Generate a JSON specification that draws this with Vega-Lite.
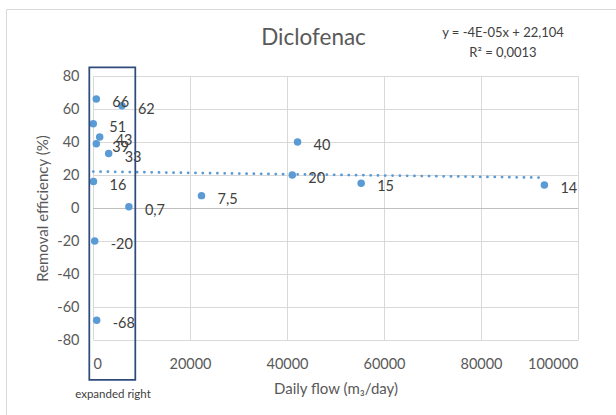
{
  "$schema": "https://vega.github.io/schema/vega-lite/v6.json",
  "width": 485,
  "height": 264,
  "autosize": {"type": "none"},
  "padding": {"left": 93, "top": 76, "right": 38, "bottom": 75},
  "background": "white",
  "title": {
    "text": "Diclofenac",
    "fontSize": 22.5,
    "font": "Lato",
    "fontWeight": "normal",
    "color": "#595959",
    "anchor": "middle",
    "baseline": "alphabetic",
    "dx": -22,
    "offset": -58
  },
  "datasets": {
    "points": [
      {"flow": 680, "removal": 66},
      {"flow": 5970, "removal": 62},
      {"flow": 50, "removal": 51},
      {"flow": 1380, "removal": 43},
      {"flow": 680, "removal": 39},
      {"flow": 3230, "removal": 33},
      {"flow": 100, "removal": 16},
      {"flow": 7400, "removal": 0.7},
      {"flow": 350, "removal": -20},
      {"flow": 760, "removal": -68},
      {"flow": 22370, "removal": 7.5},
      {"flow": 42180, "removal": 40},
      {"flow": 41090, "removal": 20},
      {"flow": 55290, "removal": 15},
      {"flow": 93070, "removal": 14}
    ],
    "trend": [
      {"flow": 50, "removal": 22.102},
      {"flow": 93070, "removal": 18.381}
    ],
    "frame": [
      {"x0": -17835, "x1": 130000, "y0": 120.3, "y1": -160}
    ],
    "box": [
      {"x0": -763, "x1": 8722, "y0": 85.3, "y1": -104.2}
    ],
    "notes": [
      {"flow": 84536, "removal": 106, "note": "y = -4E-05x + 22,104", "size": 13},
      {"flow": 84536, "removal": 94, "note": "R² = 0,0013", "size": 13},
      {"flow": 4124, "removal": -113.3, "note": "expanded right", "size": 11.5}
    ]
  },
  "config": {
    "locale": {
      "number": {"decimal": ",", "thousands": "", "grouping": [3], "currency": ["", ""], "minus": "-"}
    },
    "view": {"stroke": null}
  },
  "resolve": {"axis": {"x": "independent", "y": "independent"}},
  "layer": [
    {
      "data": {"name": "points"},
      "mark": {"type": "point", "filled": true, "shape": "circle", "size": 56, "color": "#5B9BD5", "opacity": 0},
      "encoding": {
        "x": {
          "field": "flow", "type": "quantitative",
          "scale": {"domain": [0, 100000], "nice": false},
          "axis": {
            "values": [0, 20000, 40000, 60000, 80000, 100000], "format": "d",
            "grid": true, "gridColor": "#d9d9d9", "gridWidth": 1, "gridOpacity": 1,
            "domain": false, "ticks": false, "labelOverlap": false,
            "labelFont": "Lato", "labelFontSize": 14.5, "labelColor": "#595959", "labelPadding": 17,
            "title": "Daily flow (m₃/day)", "titleFont": "Lato", "titleFontSize": 15, "titleFontWeight": "normal", "titleColor": "#595959",
            "titleY": 53, "titleBaseline": "alphabetic"
          }
        },
        "y": {
          "field": "removal", "type": "quantitative",
          "scale": {"domain": [-80, 80], "nice": false, "zero": false},
          "axis": {
            "values": [-80, -60, -40, -20, 0, 20, 40, 60, 80], "format": "d",
            "grid": true, "gridColor": "#d9d9d9", "gridWidth": 1, "gridOpacity": 1,
            "domain": false, "ticks": false, "labelOverlap": false,
            "labelFont": "Lato", "labelFontSize": 14.5, "labelColor": "#595959", "labelPadding": 14,
            "title": "Removal efficiency (%)", "titleFont": "Lato", "titleFontSize": 15, "titleFontWeight": "normal", "titleColor": "#595959",
            "titleX": -51, "titleBaseline": "middle"
          }
        }
      }
    },
    {
      "data": {"values": [{"removal": 0}]},
      "mark": {"type": "rule", "color": "#bfbfbf", "strokeWidth": 1, "yOffset": 0.5},
      "encoding": {"y": {"field": "removal", "type": "quantitative", "axis": null}}
    },
    {
      "data": {"name": "trend"},
      "mark": {"type": "line", "color": "#5B9BD5", "strokeWidth": 2.75, "strokeDash": [0.1, 7.2], "strokeCap": "round"},
      "encoding": {
        "x": {"field": "flow", "type": "quantitative", "axis": null},
        "y": {"field": "removal", "type": "quantitative", "axis": null}
      }
    },
    {
      "data": {"name": "points"},
      "mark": {"type": "point", "filled": true, "shape": "circle", "size": 56, "color": "#5B9BD5", "opacity": 1},
      "encoding": {
        "x": {"field": "flow", "type": "quantitative", "axis": null},
        "y": {"field": "removal", "type": "quantitative", "axis": null}
      }
    },
    {
      "data": {"name": "points"},
      "mark": {"type": "text", "align": "left", "baseline": "middle", "dx": 16, "dy": 4, "font": "Lato", "fontSize": 14.5, "color": "#404040"},
      "encoding": {
        "x": {"field": "flow", "type": "quantitative", "axis": null},
        "y": {"field": "removal", "type": "quantitative", "axis": null},
        "text": {"field": "removal", "type": "quantitative", "format": ""}
      }
    },
    {
      "data": {"name": "box"},
      "mark": {"type": "rect", "fill": null, "stroke": "#2F4B7C", "strokeWidth": 1.75},
      "encoding": {
        "x": {"field": "x0", "type": "quantitative", "axis": null},
        "x2": {"field": "x1"},
        "y": {"field": "y0", "type": "quantitative", "axis": null},
        "y2": {"field": "y1"}
      }
    },
    {
      "data": {"name": "frame"},
      "mark": {"type": "rect", "fill": null, "stroke": "#d9d9d9", "strokeWidth": 1},
      "encoding": {
        "x": {"field": "x0", "type": "quantitative", "axis": null},
        "x2": {"field": "x1"},
        "y": {"field": "y0", "type": "quantitative", "axis": null},
        "y2": {"field": "y1"}
      }
    },
    {
      "data": {"name": "notes"},
      "mark": {"type": "text", "align": "center", "baseline": "middle", "font": "Lato", "color": "#404040"},
      "encoding": {
        "x": {"field": "flow", "type": "quantitative", "axis": null},
        "y": {"field": "removal", "type": "quantitative", "axis": null},
        "text": {"field": "note"},
        "size": {"field": "size", "type": "quantitative", "scale": null}
      }
    }
  ]
}
